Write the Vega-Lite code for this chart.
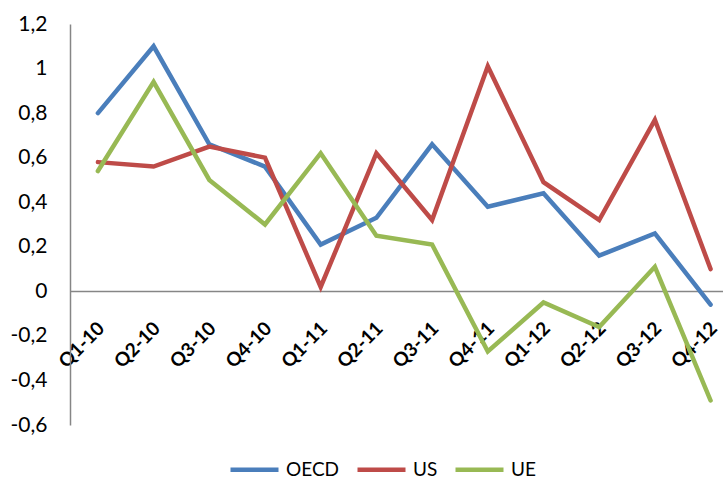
{
  "$schema": "https://vega.github.io/schema/vega-lite/v6.json",
  "width": 653,
  "height": 401,
  "autosize": "none",
  "padding": {"left": 70, "top": 24, "right": 0, "bottom": 55},
  "background": "white",
  "config": {
    "view": {"stroke": null},
    "font": "Lato"
  },
  "data": {
    "values": [
      {"q": "Q1-10", "series": "OECD", "v": 0.80},
      {"q": "Q2-10", "series": "OECD", "v": 1.10},
      {"q": "Q3-10", "series": "OECD", "v": 0.66},
      {"q": "Q4-10", "series": "OECD", "v": 0.56},
      {"q": "Q1-11", "series": "OECD", "v": 0.21},
      {"q": "Q2-11", "series": "OECD", "v": 0.33},
      {"q": "Q3-11", "series": "OECD", "v": 0.66},
      {"q": "Q4-11", "series": "OECD", "v": 0.38},
      {"q": "Q1-12", "series": "OECD", "v": 0.44},
      {"q": "Q2-12", "series": "OECD", "v": 0.16},
      {"q": "Q3-12", "series": "OECD", "v": 0.26},
      {"q": "Q4-12", "series": "OECD", "v": -0.06},
      {"q": "Q1-10", "series": "US", "v": 0.58},
      {"q": "Q2-10", "series": "US", "v": 0.56},
      {"q": "Q3-10", "series": "US", "v": 0.65},
      {"q": "Q4-10", "series": "US", "v": 0.60},
      {"q": "Q1-11", "series": "US", "v": 0.02},
      {"q": "Q2-11", "series": "US", "v": 0.62},
      {"q": "Q3-11", "series": "US", "v": 0.32},
      {"q": "Q4-11", "series": "US", "v": 1.01},
      {"q": "Q1-12", "series": "US", "v": 0.49},
      {"q": "Q2-12", "series": "US", "v": 0.32},
      {"q": "Q3-12", "series": "US", "v": 0.77},
      {"q": "Q4-12", "series": "US", "v": 0.10},
      {"q": "Q1-10", "series": "UE", "v": 0.54},
      {"q": "Q2-10", "series": "UE", "v": 0.94},
      {"q": "Q3-10", "series": "UE", "v": 0.50},
      {"q": "Q4-10", "series": "UE", "v": 0.30},
      {"q": "Q1-11", "series": "UE", "v": 0.62},
      {"q": "Q2-11", "series": "UE", "v": 0.25},
      {"q": "Q3-11", "series": "UE", "v": 0.21},
      {"q": "Q4-11", "series": "UE", "v": -0.27},
      {"q": "Q1-12", "series": "UE", "v": -0.05},
      {"q": "Q2-12", "series": "UE", "v": -0.16},
      {"q": "Q3-12", "series": "UE", "v": 0.11},
      {"q": "Q4-12", "series": "UE", "v": -0.49}
    ]
  },
  "mark": {"type": "line", "strokeWidth": 4.5, "strokeCap": "round"},
  "encoding": {
    "x": {
      "field": "q",
      "type": "ordinal",
      "sort": null,
      "scale": {"type": "point", "padding": 0.362, "align": 0.692},
      "axis": {
        "title": null,
        "zindex": 0,
        "offset": -134,
        "domainColor": "#868686",
        "domainWidth": 1.5,
        "ticks": false,
        "labelAngle": -45,
        "labelAlign": "right",
        "labelBaseline": "middle",
        "labelPadding": 34,
        "labelOffset": 3,
        "labelFont": "Lato",
        "labelFontSize": 19,
        "labelFontWeight": "bold",
        "labelColor": "black"
      }
    },
    "y": {
      "field": "v",
      "type": "quantitative",
      "scale": {"domain": [-0.6, 1.2], "nice": false, "zero": false},
      "axis": {
        "title": null,
        "values": [-0.6, -0.4, -0.2, 0, 0.2, 0.4, 0.6, 0.8, 1, 1.2],
        "labelExpr": "replace(replace(format(datum.value, '.1~f'), '.', ','), '\u2212', '-')",
        "grid": false,
        "ticks": false,
        "domainColor": "#868686",
        "domainWidth": 1.5,
        "labelPadding": 23,
        "labelFont": "Lato",
        "labelFontSize": 21,
        "labelColor": "black"
      }
    },
    "color": {
      "field": "series",
      "type": "nominal",
      "scale": {"domain": ["OECD", "US", "UE"], "range": ["#4A7EBB", "#BE4B48", "#98B954"]},
      "legend": {
        "title": null,
        "orient": "none",
        "direction": "horizontal",
        "legendX": 158,
        "legendY": 419,
        "padding": 0,
        "symbolType": "stroke",
        "symbolSize": 2304,
        "symbolStrokeWidth": 4.5,
        "labelFont": "Lato",
        "labelFontSize": 19,
        "labelColor": "black",
        "labelOffset": 5,
        "columnPadding": 8
      }
    },
    "order": {"field": "series"}
  }
}
